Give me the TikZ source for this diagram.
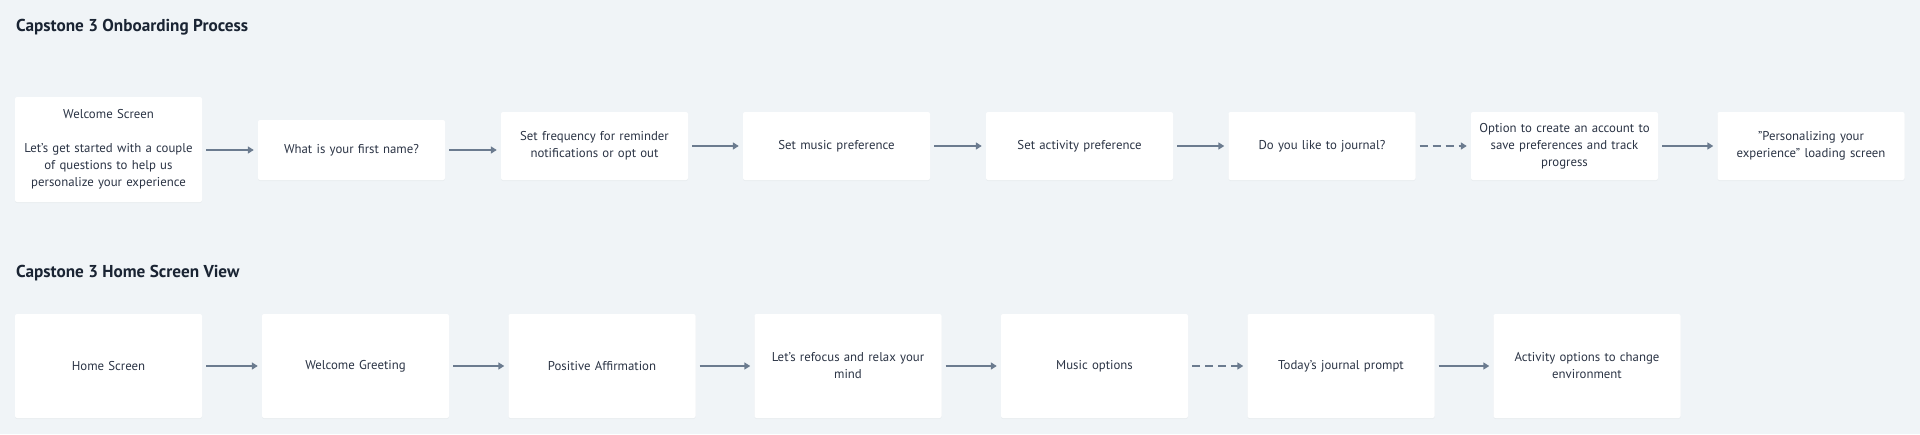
\documentclass[tikz,border=0pt]{standalone}
\usepackage{fontspec}
\setmainfont{PT Sans}
\usepackage{tikz}
\usetikzlibrary{arrows.meta,shadows}
\definecolor{pagebg}{HTML}{F0F4F7}
\definecolor{inkdark}{HTML}{1A2433}
\definecolor{inkbox}{HTML}{2B3445}
\definecolor{arrowgray}{HTML}{6B7B8F}
\def\onboardrow{146}
\def\homerow{366}

\begin{document}
\begin{tikzpicture}[x=1pt,y=-1pt,
		screen/.style={fill=white,rounded corners=2pt,minimum width=187pt,
			text width=178pt,align=center,inner sep=0pt,text=inkbox,
			font=\fontsize{12.8}{17}\selectfont,
			drop shadow={opacity=0.06,shadow xshift=0pt,shadow yshift=-1pt}},
		heading/.style={anchor=west,inner sep=0pt,text=inkdark,
			font=\fontsize{17.2}{20}\selectfont\bfseries},
		flow/.style={draw=arrowgray,line width=2.4pt,shorten <=4pt,shorten >=4pt,
			-{Triangle[length=6pt,width=7pt]}},
		maybe/.style={flow,dash pattern=on 8pt off 5pt}]
			\fill[pagebg] (0,0) rectangle (1920,434);
			\useasboundingbox (0,0) rectangle (1920,434);
			% onboarding
			\node[heading] (title1) at (16,27) {Capstone 3 Onboarding Process};
			\node[screen,minimum height=105pt] (welcome) at (108.5,149.5)
				{Welcome Screen\\[17pt]Let's get started with a couple\\of questions to help us\\personalize your experience};
			\node[screen,minimum height=60pt] (firstname) at (351.5,150) {What is your first name?};
			\node[screen,minimum height=68pt] (reminder) at (594.5,\onboardrow) {Set frequency for reminder\\notifications or opt out};
			\node[screen,minimum height=68pt] (music) at (836.5,\onboardrow) {Set music preference};
			\node[screen,minimum height=68pt] (activity) at (1079.5,\onboardrow) {Set activity preference};
			\node[screen,minimum height=68pt] (journal) at (1322,\onboardrow) {Do you like to journal?};
			\node[screen,minimum height=68pt] (account) at (1564.5,\onboardrow) {Option to create an account to\\save preferences and track\\progress};
			\node[screen,minimum height=68pt] (loading) at (1811,\onboardrow) {"Personalizing your\\experience" loading screen};
			\draw[flow] (welcome.east |- firstname.east) -- (firstname.east -| firstname.west);
			\draw[flow] (firstname.east) -- (reminder.west |- firstname.east);
			\draw[flow] (reminder) -- (music);
			\draw[flow] (music) -- (activity);
			\draw[flow] (activity) -- (journal);
			\draw[maybe] (journal) -- (account);
			\draw[flow] (account) -- (loading);
			% home screen
			\node[heading] (title2) at (16,273) {Capstone 3 Home Screen View};
			\node[screen,minimum height=104pt] (home) at (108.5,\homerow) {Home Screen};
			\node[screen,minimum height=104pt] (greeting) at (355.5,\homerow) {Welcome Greeting};
			\node[screen,minimum height=104pt] (affirm) at (602,\homerow) {Positive Affirmation};
			\node[screen,minimum height=104pt] (refocus) at (848,\homerow) {Let's refocus and relax your\\mind};
			\node[screen,minimum height=104pt] (musicopt) at (1094.5,\homerow) {Music options};
			\node[screen,minimum height=104pt] (prompt) at (1341,\homerow) {Today's journal prompt};
			\node[screen,minimum height=104pt] (environ) at (1587,\homerow) {Activity options to change\\environment};
			\draw[flow] (home) -- (greeting);
			\draw[flow] (greeting) -- (affirm);
			\draw[flow] (affirm) -- (refocus);
			\draw[flow] (refocus) -- (musicopt);
			\draw[maybe] (musicopt) -- (prompt);
			\draw[flow] (prompt) -- (environ);
		\end{tikzpicture}
\end{document}
